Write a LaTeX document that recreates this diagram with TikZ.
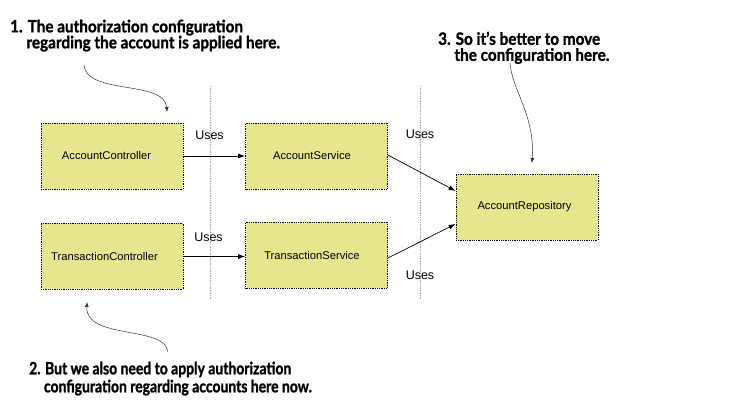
\documentclass[tikz,border=0pt]{standalone}
\usepackage{fontspec}
\setmainfont{Liberation Sans}
\newfontfamily\annfont[FakeStretch=0.9,BoldFeatures={FakeBold=1.2}]{Lato}
\newfontfamily\annfontb[FakeStretch=0.82,BoldFeatures={FakeBold=1.2}]{Lato}
\usetikzlibrary{arrows.meta}
\definecolor{boxfill}{HTML}{E6E68F}
\tikzset{
  comp/.style={draw=black, fill=boxfill, densely dotted, line width=0.8pt, minimum width=142pt, minimum height=66pt, inner sep=0pt, font=\fontsize{11.2}{13}\selectfont},
  sep/.style={draw=gray!70, densely dotted, line width=0.7pt},
  uses/.style={font=\fontsize{12.5}{14}\selectfont, inner sep=0pt},
  conn/.style={-{Latex[length=7pt,width=5pt]}, line width=0.7pt},
  note/.style={-{Latex[length=5pt,width=4pt]}, line width=0.5pt, draw=black!80},
  ann/.style={font=\annfont\bfseries\fontsize{17}{17}\selectfont, align=left, anchor=north west, inner sep=0pt},
  annb/.style={ann, font=\annfontb\bfseries\fontsize{17}{17}\selectfont}
}
\begin{document}
\begin{tikzpicture}[x=1pt,y=-1pt]
\useasboundingbox (0,0) rectangle (731,419);
% separators
\coordinate (s1t) at (210,86);
\coordinate (s1b) at (210,300);
\coordinate (s2t) at (420,86);
\coordinate (s2b) at (420,300);
\draw[sep] (s1t) -- (s1b);
\draw[sep] (s2t) -- (s2b);
% components
\node[comp] (ac) at (112,156) {\hspace*{-11pt}AccountController};
\node[comp] (as) at (316.5,156) {\hspace*{-9pt}AccountService};
\node[comp] (tc) at (112,256.5) {\hspace*{-15pt}\raisebox{-2.5pt}{TransactionController}};
\node[comp] (ts) at (316.5,255) {\hspace*{-9pt}TransactionService};
\node[comp] (ar) at (527,207) {\hspace*{-5pt}\raisebox{-2pt}{AccountRepository}};
% uses labels
\node[uses] (u1) at (209.5,135) {Uses};
\node[uses] (u2) at (208.5,237) {Uses};
\node[uses] (u3) at (420,134) {Uses};
\node[uses] (u4) at (420,275) {Uses};
% connectors
\draw[conn] (ac.east) -- (as.west);
\draw[conn] (tc.east) -- (tc.east -| ts.west);
\draw[conn] ([yshift=1pt]as.east) -- ([yshift=16pt]ar.west);
\draw[conn] ([yshift=-3pt]ts.east) -- ([yshift=-17pt]ar.west);
% annotations
\node[ann] (n1) at (10,19.5) {1. The authorization configuration\\[-1pt]\phantom{1.\ }regarding the account is applied here.};
\node[annb] (n2) at (29,361.5) {2. But we also need to apply authorization\\[1pt]\phantom{2.\ }configuration regarding accounts here now.};
\node[ann] (n3) at (438,31.5) {3. So it’s better to move\\[-1pt]\phantom{3.\ }the configuration here.};
\coordinate (a1s) at (84,65);
\coordinate (a1e) at (167,112);
\draw[note] (a1s) .. controls (86,95) and (165,80) .. (a1e);
\coordinate (a2s) at (168,352);
\coordinate (a2e) at (87,302);
\draw[note] (a2s) .. controls (165,325) and (85,340) .. (a2e);
\coordinate (a3s) at (510,63);
\coordinate (a3e) at (532,163);
\draw[note] (a3s) .. controls (512,90) and (535,115) .. (a3e);
\end{tikzpicture}
\end{document}
